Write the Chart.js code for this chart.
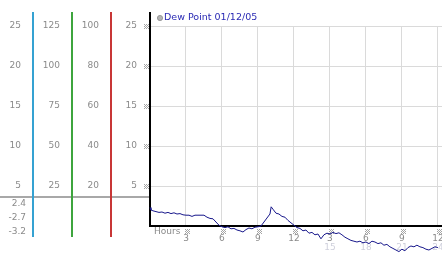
<!DOCTYPE html>
<html>
<head>
<meta charset="utf-8">
<script src="https://cdn.jsdelivr.net/npm/chart.js"></script>
<style>
  html, body { margin: 0; padding: 0; background: #fff; }
  canvas { display: block; }
</style>
</head>
<body>
<canvas id="dewChart" width="442" height="253"></canvas>
<script>
// Dew point readings (hours since midnight -> value)
const hours = [
  0, 0.08, 0.25, 0.5, 0.75, 1, 1.25, 1.5, 1.75, 2, 2.25, 2.5, 2.75,
  3, 3.25, 3.5, 3.75, 4, 4.25, 4.5, 4.75, 5, 5.25, 5.5, 5.75,
  6, 6.25, 6.5, 6.75, 7, 7.25, 7.5, 7.75, 8, 8.25, 8.5, 8.75,
  9, 9.25, 9.5, 9.75, 10, 10.1, 10.25, 10.5, 10.75, 11, 11.25, 11.5, 11.75,
  12, 12.25, 12.5, 12.75, 13, 13.25, 13.5, 13.75, 14, 14.25, 14.5, 14.75,
  15, 15.25, 15.5, 15.75, 16, 16.25, 16.5, 16.75, 17, 17.25, 17.5, 17.75,
  18, 18.25, 18.5, 18.75, 19, 19.25, 19.5, 19.75, 20, 20.25, 20.5, 20.75,
  21, 21.25, 21.5, 21.75, 22, 22.25, 22.5, 22.75, 23, 23.25, 23.5, 23.75, 24
];
const dewPoint = [
  2.3, 2.0, 1.9, 1.8, 1.7, 1.75, 1.6, 1.7, 1.55, 1.65, 1.5, 1.55, 1.4,
  1.35, 1.35, 1.2, 1.35, 1.35, 1.35, 1.35, 1.1, 0.95, 0.9, 0.5, 0.1,
  -0.1, -0.2, -0.1, -0.35, -0.3, -0.5, -0.6, -0.75, -0.45, -0.25, -0.35, -0.15,
  -0.1, 0.0, 0.5, 1.0, 1.5, 2.4, 2.1, 1.6, 1.5, 1.2, 1.1, 0.7, 0.4,
  0.1, -0.2, -0.3, -0.6, -0.5, -0.9, -0.8, -1.1, -1.0, -1.6, -1.1, -0.9,
  -1.0, -0.8, -0.95, -0.85, -1.1, -1.4, -1.6, -1.8, -1.9, -2.0, -1.9, -2.1,
  -2.0, -2.2, -1.9, -2.0, -2.2, -2.1, -2.4, -2.3, -2.6, -2.8, -3.0, -3.2,
  -2.9, -3.1, -2.7, -2.5, -2.6, -2.4, -2.6, -2.7, -2.9, -3.0, -2.8, -2.6, -2.7
];

// x axis: 12 hour clock labels, faint 24 hour labels underneath
const hourTicks = [3, 6, 9, 12, 15, 18, 21, 24];
const hourLabels = ['3', '6', '9', '12', '3', '6', '9', '12'];
const hourLabels24 = ['', '', '', '', '15', '18', '21', '24'];

// left hand columns (same series, other units)
const colMax = [25, 125, 100];
const colStep = [5, 25, 20];

// max / current / min shown under the columns
const summaryLabels = ['2.4', '-2.7', '-3.2'];

const legendText = 'Dew Point 01/12/05';

const GRAY = '#8a8a8a';
const colColors = { c1: '#35a2d2', c2: '#3ea53e', c3: '#c83636' };
Chart.defaults.font.family = 'DejaVu Sans';
Chart.defaults.font.size = 9;
Chart.defaults.color = GRAY;

// little dotted tick marks
function drawMark(ctx, x, y) {
    ctx.fillStyle = '#a4a4a4';
    for (let i = 0; i < 5; i++) {
        for (let j = 0; j < 5; j++) {
            if ((i + j) % 2 === 0) ctx.fillRect(x - 2 + i, y - 2 + j, 1, 1);
        }
    }
}

const extras = {
    id: 'extras',
    beforeDraw(chart) {
        const ctx = chart.ctx;
        ctx.save();
        ctx.fillStyle = '#a8a8a8';
        ctx.fillRect(0, 196, chart.chartArea.left, 2);
        ctx.restore();
    },
    beforeDatasetsDraw(chart) {
        const ctx = chart.ctx;
        const area = chart.chartArea;
        const x = chart.scales.x;
        const y = chart.scales.y;
        ctx.save();

        // axis lines run a little past the plot box
        Object.keys(colColors).forEach(id => {
            const px = Math.round(chart.scales[id].right);
            ctx.fillStyle = colColors[id];
            ctx.fillRect(px - 1, 12, 2, area.top - 12);
            ctx.fillRect(px - 1, area.bottom, 2, 237 - area.bottom);
        });
        ctx.fillStyle = '#000';
        ctx.fillRect(Math.round(y.right) - 1, 12, 2, area.top - 12);

        // tick marks
        y.ticks.forEach(t => {
            if (t.value > 0) drawMark(ctx, area.left - 4, Math.round(y.getPixelForValue(t.value)));
        });
        hourTicks.forEach(h => drawMark(ctx, Math.round(x.getPixelForValue(h)) + 1, 231));

        // axis caption and faint 24h labels
        ctx.font = '9px "DejaVu Sans"';
        ctx.textBaseline = 'middle';
        ctx.fillStyle = GRAY;
        ctx.textAlign = 'left';
        ctx.fillText('Hours', 154, 232);
        ctx.fillStyle = '#cfd0dc';
        ctx.textAlign = 'center';
        hourTicks.forEach((h, i) => {
            if (hourLabels24[i]) ctx.fillText(hourLabels24[i], x.getPixelForValue(h), 248);
        });

        // summary numbers
        ctx.fillStyle = GRAY;
        ctx.textAlign = 'right';
        summaryLabels.forEach((s, i) => ctx.fillText(s, 26, 204 + i * 14));

        // legend
        ctx.beginPath();
        ctx.arc(160, 18, 2.6, 0, Math.PI * 2);
        ctx.fillStyle = '#b4b4b4';
        ctx.fill();
        ctx.strokeStyle = '#8c8c8c';
        ctx.lineWidth = 0.8;
        ctx.stroke();
        ctx.font = '9.5px "DejaVu Sans"';
        ctx.fillStyle = '#2a2ab4';
        ctx.textAlign = 'left';
        ctx.fillText(legendText, 164, 18);
        ctx.restore();
    }
};

function sideAxis(id, max, step, width, weight) {
    return {
        position: 'left',
        weight: weight,
        min: 0,
        max: max,
        afterFit: s => { s.width = width; s.paddingTop = 0; s.paddingBottom = 0; },
        ticks: {
            stepSize: step,
            padding: 12,
            color: GRAY,
            callback: v => v === 0 ? '' : v
        },
        grid: { drawOnChartArea: false, drawTicks: false },
        border: { color: colColors[id], width: 2 }
    };
}

const ctx = document.getElementById('dewChart').getContext('2d');
const dewChart = new Chart(ctx, {
    type: 'line',
    data: {
        datasets: [{
            label: legendText,
            data: hours.map((h, i) => ({ x: h, y: dewPoint[i] })),
            borderColor: '#16168a',
            borderWidth: 1,
            pointRadius: 0,
            tension: 0,
            clip: false
        }]
    },
    options: {
        responsive: false,
        animation: false,
        layout: { padding: { top: 26, left: 0, right: 0, bottom: 0 } },
        plugins: { legend: { display: false }, tooltip: { enabled: false } },
        scales: {
            x: {
                type: 'linear',
                min: 0,
                max: 24.34,
                afterBuildTicks: s => { s.ticks = [0].concat(hourTicks).map(v => ({ value: v })); },
                afterFit: s => { s.height = 27; s.paddingLeft = 0; s.paddingRight = 0; },
                ticks: {
                    padding: 7,
                    autoSkip: false,
                    maxRotation: 0,
                    color: GRAY,
                    callback: (v, i) => i === 0 ? '' : hourLabels[i - 1]
                },
                grid: { color: '#dadada', drawTicks: false },
                border: { color: '#000', width: 2 }
            },
            y: {
                position: 'left',
                weight: 0,
                min: 0,
                max: colMax[0],
                afterFit: s => { s.width = 39; s.paddingTop = 0; s.paddingBottom = 0; },
                ticks: {
                    stepSize: colStep[0],
                    padding: 13,
                    color: GRAY,
                    callback: v => v === 0 ? '' : v
                },
                grid: { color: '#dadada', drawTicks: false },
                border: { color: '#000', width: 2 }
            },
            c3: sideAxis('c3', colMax[2], colStep[2], 39, 1),
            c2: sideAxis('c2', colMax[1], colStep[1], 39, 2),
            c1: sideAxis('c1', colMax[0], colStep[0], 33, 3)
        }
    },
    plugins: [extras]
});
</script>
</body>
</html>
